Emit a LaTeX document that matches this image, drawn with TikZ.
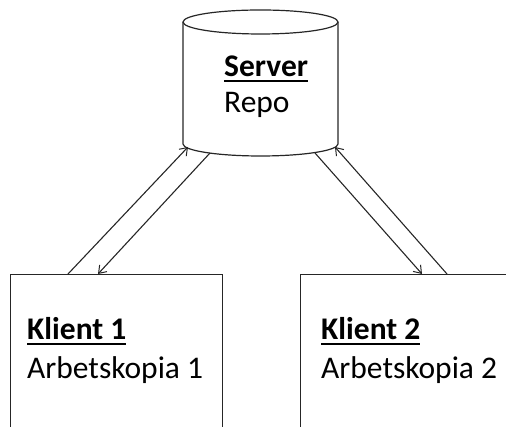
\documentclass[tikz,border=0pt]{standalone}
\usepackage{fontspec}
\setmainfont{Carlito}
\usetikzlibrary{arrows.meta}
\newsavebox\ulbox
\newcommand\ulbold[1]{\sbox\ulbox{\bfseries #1}\rlap{\rule[-5.5pt]{\wd\ulbox}{2pt}}\usebox\ulbox}
\begin{document}
\begin{tikzpicture}[x=1pt,y=1pt,
  shape line/.style={draw=black!85, line width=1.2pt},
  box/.style={shape line, rectangle, inner sep=0pt, minimum width=212pt, minimum height=180pt, anchor=north west},
  label text/.style={inner sep=0pt, anchor=base west, font=\fontsize{31.5}{37}\selectfont},
  link/.style={draw=black!85, line width=1.1pt, -{Straight Barb[length=7pt,width=10pt,line width=1pt]}}]
\useasboundingbox (0,0) rectangle (506,427);
\clip (0,0) rectangle (506,427);

% server repository drawn as a cylinder
\draw[shape line] (183,405) -- (183,283) arc[start angle=180, end angle=360, x radius=77.5, y radius=12] -- (338,405);
\draw[shape line] (260.5,405) ellipse [x radius=77.5, y radius=12];
\coordinate (srvL) at (188,280);
\coordinate (srvLb) at (210,274);
\coordinate (srvR) at (335,280);
\coordinate (srvRb) at (315,274);
\node[label text] (srvtitle) at (224,350) {\ulbold{Server}};
\node[label text] (srvrepo) at (224,314) {Repo};

% client boxes
\node[box] (k1) at (10,153) {};
\node[box] (k2) at (300,153) {};
\node[label text] (k1title) at (27,87) {\ulbold{Klient 1}};
\node[label text] (k1copy) at (27,48) {Arbetskopia 1};
\node[label text] (k2title) at (321,87) {\ulbold{Klient 2}};
\node[label text] (k2copy) at (321,48) {Arbetskopia 2};

% commit / update arrows
\draw[link] ([xshift=58pt]k1.north west) -- (srvL);
\draw[link] (srvLb) -- ([xshift=88pt]k1.north west);
\draw[link] (srvRb) -- ([xshift=122pt]k2.north west);
\draw[link] ([xshift=147pt]k2.north west) -- (srvR);
\end{tikzpicture}
\end{document}
